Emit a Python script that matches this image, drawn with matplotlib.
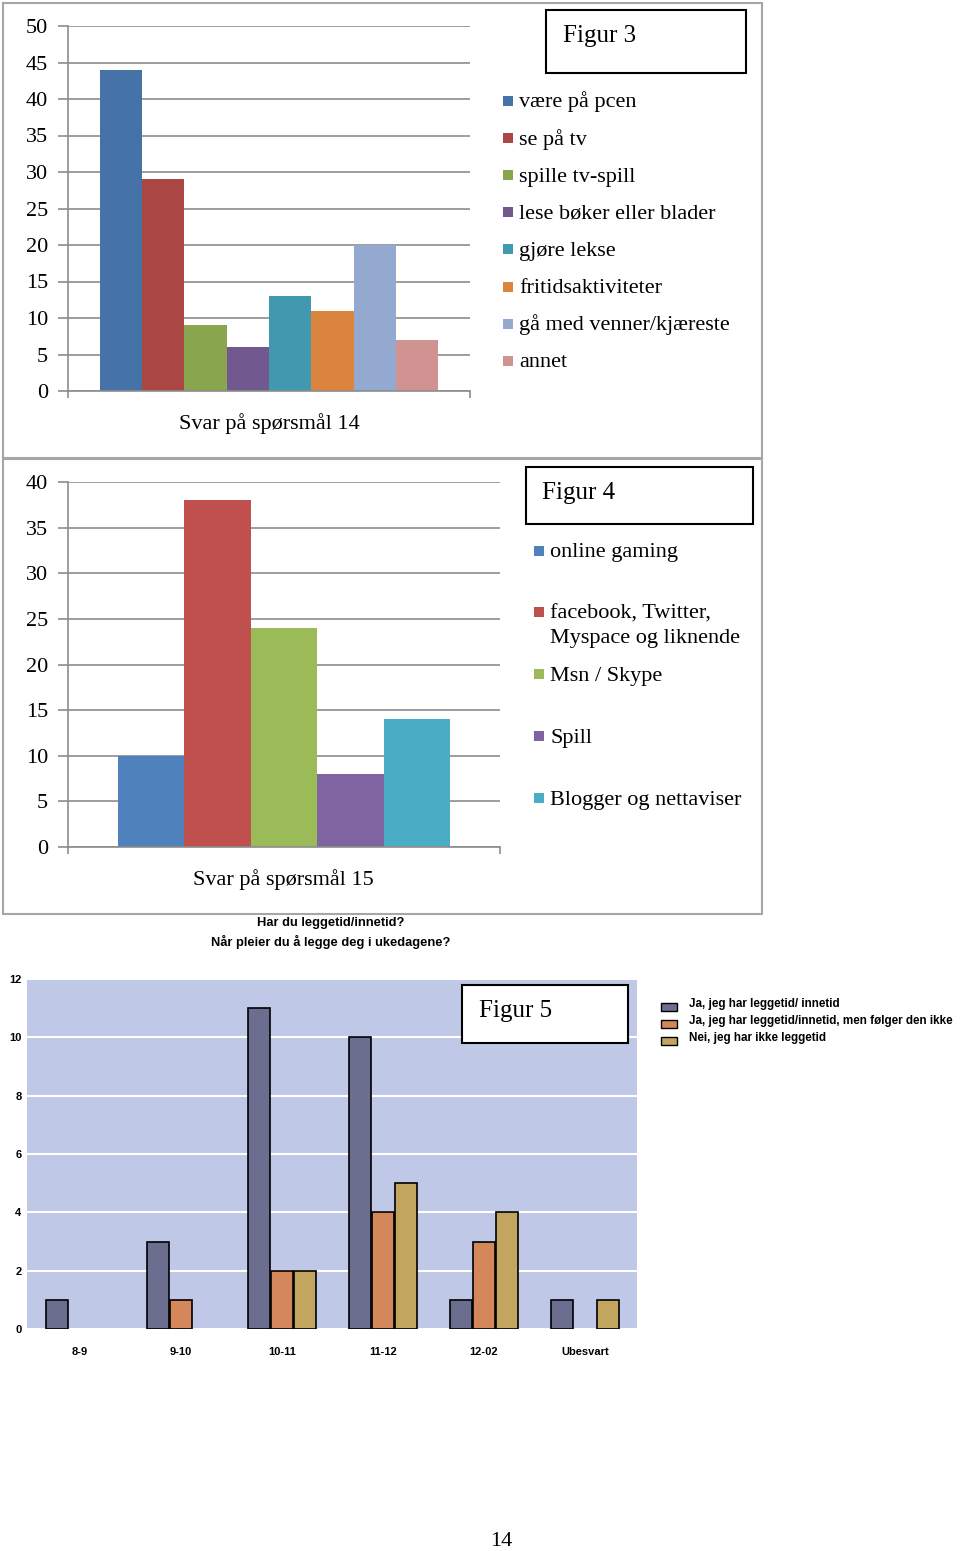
import matplotlib
matplotlib.use("Agg")
import matplotlib.pyplot as plt
from matplotlib.patches import Rectangle

# ---------------- data ----------------
q14_labels = ["være på pcen", "se på tv", "spille tv-spill", "lese bøker eller blader",
              "gjøre lekse", "fritidsaktiviteter", "gå med venner/kjæreste", "annet"]
q14_values = [44, 29, 9, 6, 13, 11, 20, 7]
q14_colors = ["#4572A7", "#AA4643", "#89A54E", "#71588F", "#4198AF", "#DB843D", "#93A9CF", "#D19392"]

q15_labels = ["online gaming", "facebook, Twitter,\nMyspace og liknende", "Msn / Skype",
              "Spill", "Blogger og nettaviser"]
q15_values = [10, 38, 24, 8, 14]
q15_colors = ["#4F81BD", "#C0504D", "#9BBB59", "#8064A2", "#4BACC6"]

bed_categories = ["8-9", "9-10", "10-11", "11-12", "12-02", "Ubesvart"]
bed_series = ["Ja, jeg har leggetid/ innetid",
              "Ja, jeg har leggetid/innetid, men følger den ikke",
              "Nei, jeg har ikke leggetid"]
bed_values_ja = [1, 3, 11, 10, 1, 1]
bed_values_ja_ikke = [0, 1, 2, 4, 3, 0]
bed_values_nei = [0, 0, 2, 5, 4, 1]
bed_colors = ["#6B6E8F", "#D4875A", "#C2A55F"]

# ---------------- layout helpers ----------------
W, H = 960, 1551
fig = plt.figure(figsize=(W / 100, H / 100), dpi=100)
fig.patch.set_facecolor("white")

SERIF = ["Liberation Serif", "DejaVu Serif"]
SANS = ["Liberation Sans", "DejaVu Sans"]
GRID = "#8C8C8C"
FRAME = "#A6A6A6"
LBL = 16


def rect(x0, y0, x1, y1):
    return [x0 / W, 1 - y1 / H, (x1 - x0) / W, (y1 - y0) / H]


def fx(x):
    return x / W


def fy(y):
    return 1 - y / H


def add_box(x0, y0, x1, y1, ec, lw, fc="none", z=5):
    fig.add_artist(Rectangle((fx(x0), fy(y1)), (x1 - x0) / W, (y1 - y0) / H,
                             transform=fig.transFigure, fill=(fc != "none"),
                             facecolor=fc, edgecolor=ec, linewidth=lw, zorder=z))


def style_office_axes(ax, ymax, step):
    ax.set_ylim(0, ymax)
    ax.set_yticks(range(0, ymax + 1, step))
    ax.grid(axis="y", color=GRID, linewidth=1.2)
    ax.set_axisbelow(True)
    for s in ("top", "right"):
        ax.spines[s].set_visible(False)
    for s in ("left", "bottom"):
        ax.spines[s].set_color(GRID)
        ax.spines[s].set_linewidth(1.2)
    lo, hi = ax.get_xlim()
    ax.set_xticks([lo, hi])
    ax.set_xticklabels(["", ""])
    ax.tick_params(axis="x", length=5, color=GRID, width=1.2)
    ax.tick_params(axis="y", length=7.5, color=GRID, width=1.2, pad=7, labelsize=LBL)
    for t in ax.get_yticklabels():
        t.set_family(SERIF)


# ---------------- Figur 3 ----------------
add_box(3, 3, 762, 458, FRAME, 1.5)
ax1 = fig.add_axes(rect(68, 26, 470, 391))
ax1.bar(range(len(q14_values)), q14_values, width=1.0, color=q14_colors, linewidth=0)
ax1.set_xlim(-1.257, len(q14_values) - 1 + 1.257)
style_office_axes(ax1, 50, 5)
fig.text(fx(269), fy(424), "Svar på spørsmål 14", ha="center", va="center",
         family=SERIF, fontsize=LBL)

add_box(546, 10, 746, 73, "black", 1.5)
fig.text(fx(563), fy(36), "Figur 3", ha="left", va="center", family=SERIF, fontsize=18)
for i, (lab, col) in enumerate(zip(q14_labels, q14_colors)):
    yc = 101 + 37.1 * i
    add_box(503, yc - 5, 513, yc + 5, "none", 0, fc=col)
    fig.text(fx(519), fy(yc + 6.5), lab, ha="left", va="baseline", family=SERIF, fontsize=LBL)

# ---------------- Figur 4 ----------------
add_box(3, 459, 762, 914, FRAME, 1.5)
ax2 = fig.add_axes(rect(68, 482, 500, 847))
ax2.bar(range(len(q15_values)), q15_values, width=1.0, color=q15_colors, linewidth=0)
ax2.set_xlim(-1.253, len(q15_values) - 1 + 1.253)
style_office_axes(ax2, 40, 5)
fig.text(fx(283), fy(880), "Svar på spørsmål 15", ha="center", va="center",
         family=SERIF, fontsize=LBL)

add_box(526, 467, 753, 524, "black", 1.5)
fig.text(fx(542), fy(493), "Figur 4", ha="left", va="center", family=SERIF, fontsize=18)
legend2_y = [551, 612, 674, 736, 798]
for yc, lab, col in zip(legend2_y, q15_labels, q15_colors):
    add_box(534, yc - 5, 544, yc + 5, "none", 0, fc=col)
    for k, line in enumerate(lab.split("\n")):
        fig.text(fx(550), fy(yc + 6.5 + 25 * k), line, ha="left", va="baseline",
                 family=SERIF, fontsize=LBL)

# ---------------- Figur 5 ----------------
fig.text(fx(331), fy(923), "Har du leggetid/innetid?", ha="center", va="center",
         family=SANS, fontsize=9.3, fontweight="bold")
fig.text(fx(331), fy(942), "Når pleier du å legge deg i ukedagene?", ha="center", va="center",
         family=SANS, fontsize=9.3, fontweight="bold")

ax3 = fig.add_axes(rect(27, 979, 637, 1329))
ax3.set_facecolor("#BFC8E6")
bw = 0.223
series = [bed_values_ja, bed_values_ja_ikke, bed_values_nei]
xs = list(range(len(bed_categories)))
for j, (vals, col, lab) in enumerate(zip(series, bed_colors, bed_series)):
    off = (j - 1) * 0.228
    ax3.bar([x + off for x in xs], vals, width=bw, color=col, edgecolor="black",
            linewidth=[1.2 if v > 0 else 0 for v in vals], label=lab, zorder=3)
ax3.set_xlim(-0.525, 5.515)
ax3.set_ylim(0, 12)
ax3.set_yticks(range(0, 13, 2))
ax3.set_xticks(xs)
ax3.set_xticklabels(bed_categories)
ax3.grid(axis="y", color="white", linewidth=1.5, zorder=1)
ax3.set_axisbelow(True)
for s in ax3.spines.values():
    s.set_visible(False)
ax3.tick_params(axis="both", length=0, labelsize=8)
ax3.tick_params(axis="y", pad=4)
ax3.tick_params(axis="x", pad=13)
for t in ax3.get_xticklabels() + ax3.get_yticklabels():
    t.set_family(SANS)
    t.set_fontweight("bold")

add_box(462, 985, 628, 1043, "black", 1.5, fc="white", z=6)
fig.text(fx(479), fy(1011), "Figur 5", ha="left", va="center", family=SERIF,
         fontsize=18, zorder=7)

for k, (lab, col) in enumerate(zip(bed_series, bed_colors)):
    yc = 1007 + 17 * k
    add_box(661, yc - 4, 677, yc + 4, "black", 1.0, fc=col)
    fig.text(fx(689), fy(yc - 3), lab, ha="left", va="center", family=SANS,
             fontsize=8.4, fontweight="bold")

# page number
fig.text(fx(501), fy(1541), "14", ha="center", va="center", family=SERIF, fontsize=16)

fig.savefig("out.png", dpi=100)
